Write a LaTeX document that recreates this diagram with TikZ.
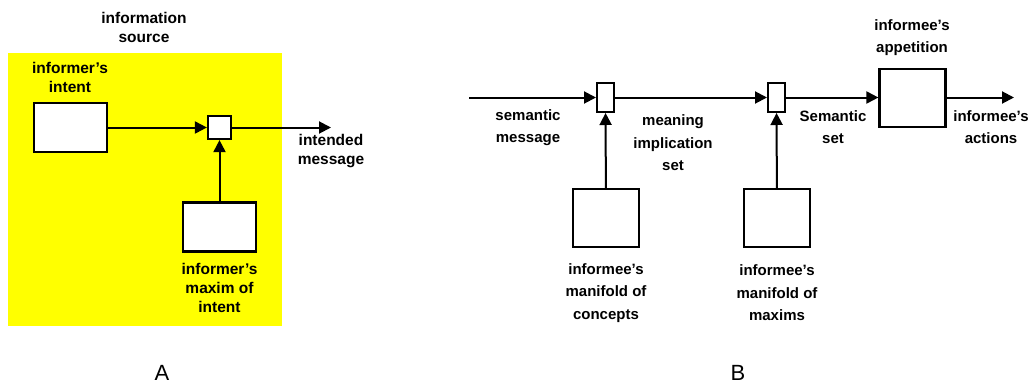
\documentclass[tikz,border=0pt]{standalone}
\usepackage{fontspec}
\setmainfont{Liberation Sans}
\usetikzlibrary{arrows.meta,positioning}
\definecolor{srcyellow}{RGB}{255,255,0}

\begin{document}
\begin{tikzpicture}[
  x=1pt,y=-1pt,
  block/.style={draw,line width=2.2pt,fill=white,minimum width=73pt,minimum height=49pt,inner sep=0pt},
  tallblock/.style={draw,line width=2.2pt,fill=white,minimum width=66pt,minimum height=58pt,inner sep=0pt},
  junc/.style={draw,line width=2.2pt,fill=white,minimum size=23pt,inner sep=0pt},
  slot/.style={draw,line width=2pt,fill=white,minimum width=17pt,minimum height=29pt,inner sep=0pt},
  lblA/.style={align=center,inner sep=0pt,font=\bfseries\fontsize{15.5}{19}\selectfont},
  lblB/.style={align=center,inner sep=0pt,font=\bfseries\fontsize{15}{22.5}\selectfont},
  tag/.style={inner sep=0pt,font=\fontsize{22}{24}\selectfont},
  >={Triangle[length=12pt,width=12pt]},line width=2pt
]
\useasboundingbox (0,0) rectangle (1029,386);

% part A
\fill[srcyellow] (8,53) rectangle (282,326);
\node[lblA] (srclbl) at (144,27) {information\\source};
\node[block] (intent) at (70.5,127.5) {};
\node[lblA] (intentlbl) at (70,77) {informer's\\intent};
\node[junc] (mixA) at (219.5,127.5) {};
\node[block] (maxim) at (219.5,227) {};
\node[lblA] (maximlbl) at (219.5,288) {informer's\\maxim of\\intent};
\coordinate (outA) at (331,127.5);
\node[lblA] (msglbl) at (331,151.5) {intended\\message};
\draw[->] (intent) -- (mixA);
\draw[->] (maxim) -- (mixA);
\draw[->] (mixA) -- (outA);
\node[tag] (tagA) at (162,373) {A};

% part B
\coordinate (inB) at (469,97.5);
\node[slot] (mixB) at (605.5,97.5) {};
\node[slot] (mixC) at (776.5,97.5) {};
\node[tallblock] (appet) at (912.5,98) {};
\coordinate (outB) at (1014,97.5);
\node[tallblock] (concepts) at (606,218) {};
\node[tallblock] (maxims) at (777,218) {};
\node[lblB] (semlbl) at (528,127.5) {semantic\\message};
\node[lblB] (implbl) at (673,143) {meaning\\implication\\set};
\node[lblB] (setlbl) at (833,127) {Semantic\\set};
\node[lblB] (appetlbl) at (912,37.5) {informee's\\appetition};
\node[lblB] (actlbl) at (991,127) {informee's\\actions};
\node[lblB] (conclbl) at (606,293) {informee's\\manifold of\\concepts};
\node[lblB] (maxlbl) at (777,293) {informee's\\manifold of\\maxims};
\draw[->] (inB) -- (mixB);
\draw[->] (mixB) -- (mixC);
\draw[->] (mixC) -- (mixC -| appet.west);
\draw[->] (appet.east |- outB) -- (outB);
\draw[->] (concepts) -- (mixB);
\draw[->] (maxims) -- (mixC);
\node[tag] (tagB) at (738,373) {B};
\end{tikzpicture}
\end{document}
